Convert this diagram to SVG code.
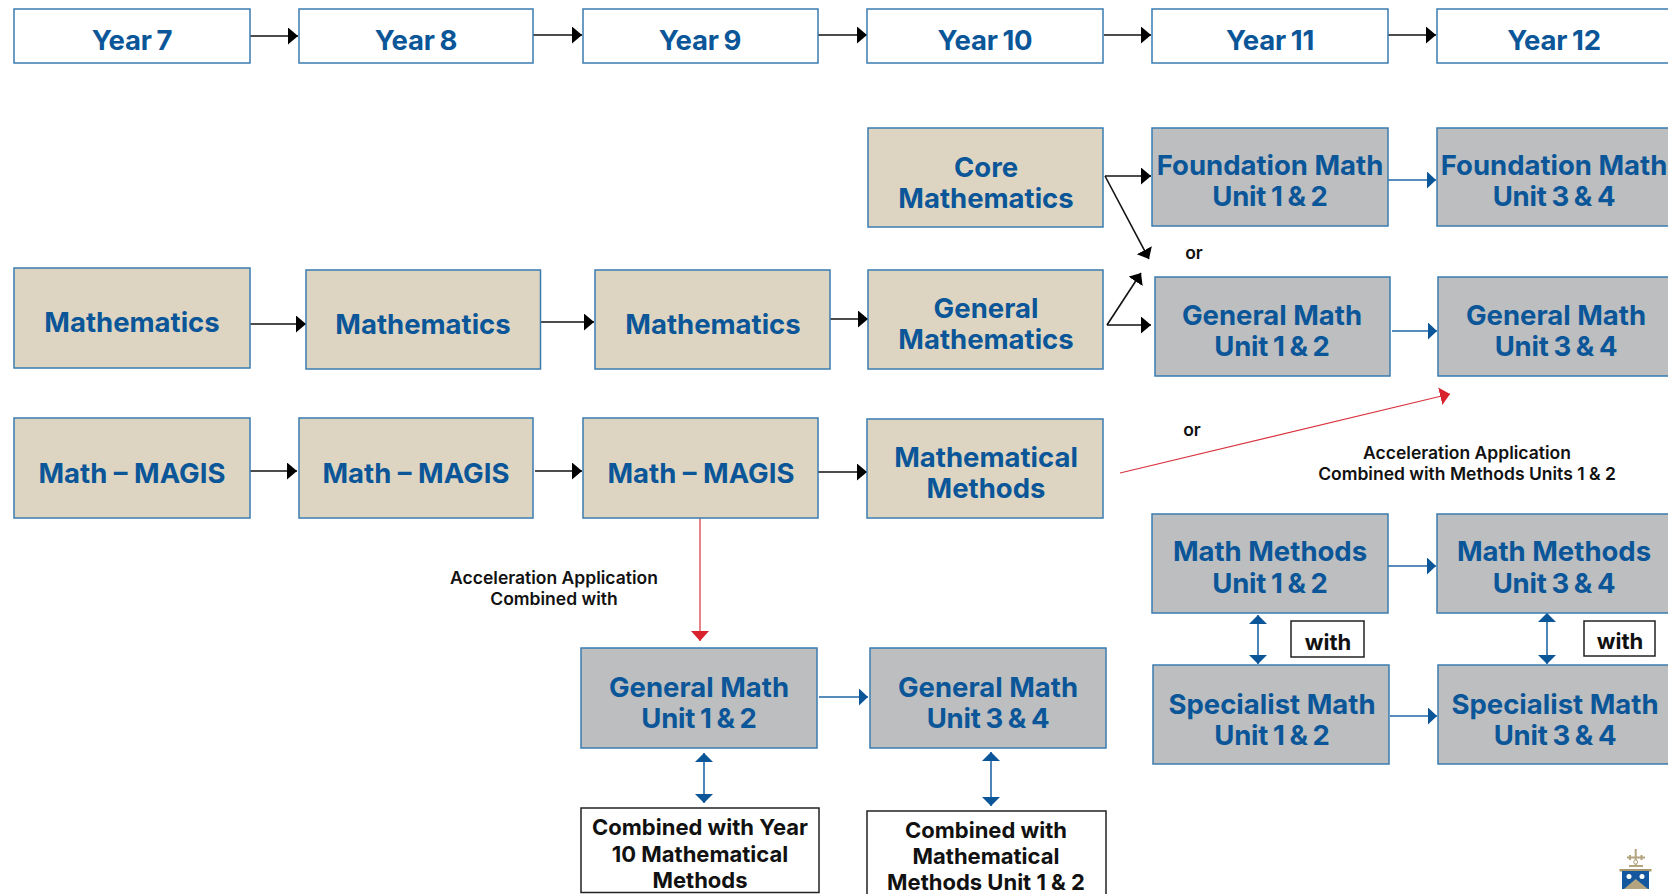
<svg xmlns="http://www.w3.org/2000/svg" width="1668" height="894" viewBox="0 0 1668 894">
<style>
text{font-family:Inter,"Liberation Sans",sans-serif;text-anchor:middle}
.t{font-size:27.5px;font-weight:700;fill:#0b5698}
.n{word-spacing:-1.500px;letter-spacing:-.2px}
.s{font-size:17.500px;font-weight:600;fill:#111}
.w{font-size:22px;font-weight:700;fill:#111}
.y{fill:#fff;stroke:#3a7cb0;stroke-width:1.5}
.c{fill:#ddd5c1;stroke:#3a7cb0;stroke-width:1.5}
.g{fill:#bcbec0;stroke:#3a7cb0;stroke-width:1.5}
.b{fill:#fff;stroke:#222;stroke-width:1.5}
.k{stroke:#111;stroke-width:1.6;fill:none;marker-end:url(#ak)}
.u{stroke:#1f66a6;stroke-width:1.6;fill:none;marker-end:url(#au)}
.d{stroke:#1f66a6;stroke-width:1.6;fill:none;marker-end:url(#ad);marker-start:url(#ad)}
.r{stroke:#d8333f;stroke-width:1.2;fill:none;marker-end:url(#ar)}
</style>
<defs>
<marker id="ak" markerUnits="userSpaceOnUse" markerWidth="12" markerHeight="18" refX="10" refY="8.500" orient="auto"><path d="M0 0L10 8.500L0 17Z" fill="#000"/></marker>
<marker id="au" markerUnits="userSpaceOnUse" markerWidth="12" markerHeight="18" refX="9" refY="8.500" orient="auto"><path d="M0 0L9 8.500L0 17Z" fill="#0b5698"/></marker>
<marker id="ad" markerUnits="userSpaceOnUse" markerWidth="12" markerHeight="20" refX="9" refY="9" orient="auto-start-reverse"><path d="M0 0L9 9L0 18Z" fill="#0b5698"/></marker>
<marker id="ar" markerUnits="userSpaceOnUse" markerWidth="12" markerHeight="20" refX="10" refY="9" orient="auto"><path d="M0 0L10 9L0 18Z" fill="#d8232f"/></marker>
</defs>
<g id="connectors">
<path class="k" d="M250 36H298"/><path class="k" d="M533 35H582"/><path class="k" d="M818 35H867"/><path class="k" d="M1104 35H1151"/><path class="k" d="M1388 35H1436"/>
<path class="k" d="M1105 176H1151"/><path class="k" d="M1105 176L1149 259"/><path class="k" d="M1107 325L1141 273"/><path class="k" d="M1107 325H1151"/>
<path class="k" d="M247 324H306"/><path class="k" d="M540 322H594"/><path class="k" d="M830 319H868"/>
<path class="k" d="M250 471H297"/><path class="k" d="M535 471H582"/><path class="k" d="M818 472H867"/>
<path class="u" d="M1388 180H1436"/><path class="u" d="M1392 331H1437"/><path class="u" d="M1388 566H1436"/><path class="u" d="M1390 716H1437"/><path class="u" d="M819 697H868"/>
<path class="d" d="M704 753V803"/><path class="d" d="M991 752V806"/><path class="d" d="M1258 615V664"/><path class="d" d="M1547 613V664"/>
<path class="r" d="M700 518V641"/><path class="r" d="M1120 473L1450 394"/>
</g>
<g id="year7"><rect class="y" x="14" y="9" width="236" height="54"/><text class="t n" x="132" y="50">Year 7</text></g>
<g id="year8"><rect class="y" x="299" y="9" width="234" height="54"/><text class="t n" x="416" y="50">Year 8</text></g>
<g id="year9"><rect class="y" x="583" y="9" width="235" height="54"/><text class="t n" x="700" y="50">Year 9</text></g>
<g id="year10"><rect class="y" x="867" y="9" width="236" height="54"/><text class="t n" x="985" y="50">Year 10</text></g>
<g id="year11"><rect class="y" x="1152" y="9" width="236" height="54"/><text class="t n" x="1270" y="50">Year 11</text></g>
<g id="year12"><rect class="y" x="1437" y="9" width="240" height="54"/><text class="t n" x="1554" y="50">Year 12</text></g>
<g id="core"><rect class="c" x="868" y="128" width="235" height="99"/><text class="t" x="986" y="177">Core</text><text class="t" x="986" y="208">Mathematics</text></g>
<g id="foundation12"><rect class="g" x="1152" y="128" width="236" height="98"/><text class="t" x="1270" y="175">Foundation Math</text><text class="t n" x="1270" y="206">Unit 1 &amp; 2</text></g>
<g id="foundation34"><rect class="g" x="1437" y="128" width="240" height="98"/><text class="t" x="1554" y="175">Foundation Math</text><text class="t n" x="1554" y="206">Unit 3 &amp; 4</text></g>
<g id="math7"><rect class="c" x="14" y="268" width="236" height="100"/><text class="t" x="132" y="332">Mathematics</text></g>
<g id="math8"><rect class="c" x="306" y="270" width="234.500" height="99"/><text class="t" x="423" y="334">Mathematics</text></g>
<g id="math9"><rect class="c" x="595" y="270" width="235" height="99"/><text class="t" x="713" y="334">Mathematics</text></g>
<g id="generalmath10"><rect class="c" x="868" y="270" width="235" height="99"/><text class="t" x="986" y="318">General</text><text class="t" x="986" y="349">Mathematics</text></g>
<g id="general12"><rect class="g" x="1155" y="277" width="235" height="99"/><text class="t" x="1272" y="325">General Math</text><text class="t n" x="1272" y="356">Unit 1 &amp; 2</text></g>
<g id="general34"><rect class="g" x="1438" y="277" width="240" height="99"/><text class="t" x="1556" y="325">General Math</text><text class="t n" x="1556" y="356">Unit 3 &amp; 4</text></g>
<g id="magis7"><rect class="c" x="14" y="418" width="236" height="100"/><text class="t" x="132" y="483">Math – MAGIS</text></g>
<g id="magis8"><rect class="c" x="299" y="418" width="234" height="100"/><text class="t" x="416" y="483">Math – MAGIS</text></g>
<g id="magis9"><rect class="c" x="583" y="418" width="235" height="100"/><text class="t" x="701" y="483">Math – MAGIS</text></g>
<g id="methods10"><rect class="c" x="867" y="419" width="236" height="99"/><text class="t" x="986" y="467">Mathematical</text><text class="t" x="986" y="498">Methods</text></g>
<g id="methods12"><rect class="g" x="1152" y="514" width="236" height="99"/><text class="t" x="1270" y="561">Math Methods</text><text class="t n" x="1270" y="593">Unit 1 &amp; 2</text></g>
<g id="methods34"><rect class="g" x="1437" y="514" width="240" height="99"/><text class="t" x="1554" y="561">Math Methods</text><text class="t n" x="1554" y="593">Unit 3 &amp; 4</text></g>
<g id="with1"><rect class="b" x="1291" y="621" width="73" height="36"/><text class="w" x="1328" y="650">with</text></g>
<g id="with2"><rect class="b" x="1584" y="621" width="71" height="35"/><text class="w" x="1620" y="649">with</text></g>
<g id="specialist12"><rect class="g" x="1153" y="665" width="236" height="99"/><text class="t" x="1272" y="714">Specialist Math</text><text class="t n" x="1272" y="745">Unit 1 &amp; 2</text></g>
<g id="specialist34"><rect class="g" x="1438" y="665" width="240" height="99"/><text class="t" x="1555" y="714">Specialist Math</text><text class="t n" x="1555" y="745">Unit 3 &amp; 4</text></g>
<g id="lowergeneral12"><rect class="g" x="581" y="648" width="236" height="100"/><text class="t" x="699" y="697">General Math</text><text class="t n" x="699" y="728">Unit 1 &amp; 2</text></g>
<g id="lowergeneral34"><rect class="g" x="870" y="648" width="236" height="100"/><text class="t" x="988" y="697">General Math</text><text class="t n" x="988" y="728">Unit 3 &amp; 4</text></g>
<g id="combined1"><rect class="b" x="581" y="808" width="238" height="84.500"/><text class="w" x="700" y="835">Combined with Year</text><text class="w" x="700" y="862">10 Mathematical</text><text class="w" x="700" y="888">Methods</text></g>
<g id="combined2"><rect class="b" x="867" y="811" width="239" height="90"/><text class="w" x="986" y="838">Combined with</text><text class="w" x="986" y="864">Mathematical</text><text class="w" x="986" y="890">Methods Unit 1 &amp; 2</text></g>
<g id="labels">
<text class="s" x="1194" y="259">or</text><text class="s" x="1192" y="436">or</text>
<text class="s" x="1467" y="459">Acceleration Application</text><text class="s" x="1467" y="480">Combined with Methods Units 1 &amp; 2</text>
<text class="s" x="554" y="584">Acceleration Application</text><text class="s" x="554" y="605">Combined with</text>
</g>
<g id="crest">
<path d="M1635.700 849V866M1627 857.500H1645M1630 855V860M1641.500 855V860" stroke="#b3a37e" stroke-width="2" fill="none"/>
<circle cx="1635.700" cy="862" r="2" fill="#fff" stroke="#b3a37e"/>
<rect x="1629" y="865" width="14" height="2" fill="#b3a37e"/>
<rect x="1619.500" y="869" width="32" height="2.500" fill="#a8976f"/>
<rect x="1622" y="871" width="27" height="18" fill="#14579f"/>
<path d="M1624 889L1635.700 879L1648 889Z" fill="#b3a37e"/>
<circle cx="1629" cy="876.500" r="2.500" fill="#fff"/><circle cx="1642" cy="876.500" r="2.500" fill="#fff"/>
</g>
</svg>
